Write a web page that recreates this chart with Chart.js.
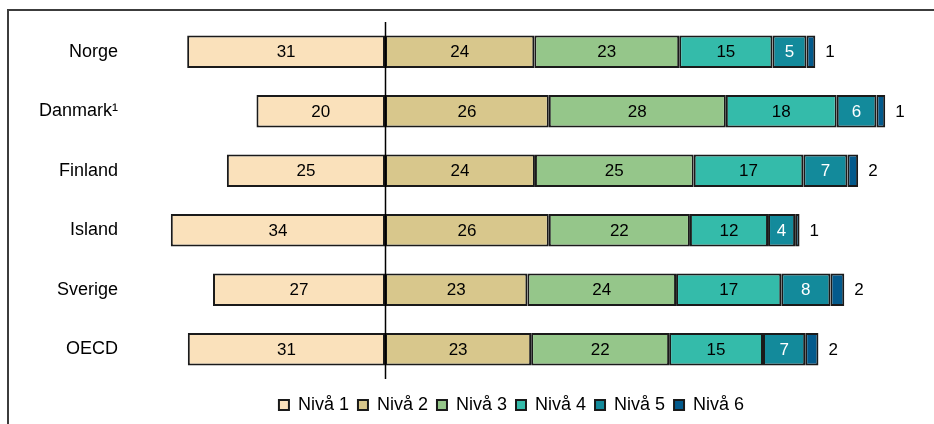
<!DOCTYPE html>
<html>
<head>
<meta charset="utf-8">
<script src="https://cdn.jsdelivr.net/npm/chart.js@4/dist/chart.umd.min.js"></script>
<style>
  html, body { margin: 0; padding: 0; background: #fff; overflow: hidden; width: 934px; height: 424px; }
  #frame { position: absolute; left: 7px; top: 9px; width: 1000px; height: 440px;
           border-left: 2px solid #3c3c3c; border-top: 2px solid #3c3c3c; }
  #wrap { position: absolute; left: 0; top: 0; width: 1030px; height: 424px; }
</style>
</head>
<body>
<div id="frame"></div>
<div id="wrap"><canvas id="chart"></canvas></div>
<script>
const countries = ["Norge", "Danmark¹", "Finland", "Island", "Sverige", "OECD"];
const levels = ["Nivå 1", "Nivå 2", "Nivå 3", "Nivå 4", "Nivå 5", "Nivå 6"];

// share of students per level, percent (labels show rounded values)
const niva1 = [31.4, 20.4, 25.1, 34.0, 27.3, 31.3];
const niva2 = [23.7, 26.0, 23.8, 26.0, 22.6, 23.2];
const niva3 = [23.0, 28.1, 25.2, 22.4, 23.6, 21.9];
const niva4 = [14.8, 17.6, 17.4, 12.4, 16.7, 14.9];
const niva5 = [5.4, 6.3, 7.0, 4.3, 7.8, 6.7];
const niva6 = [1.4, 1.4, 1.7, 0.7, 2.2, 2.1];

const LEVEL_COLOURS = ["#fae1bb", "#d8c78c", "#95c68a", "#34bbaa", "#138a9b", "#035a8c"];
const LABEL_COLOURS = ["#000", "#000", "#000", "#000", "#fff", "#000"];
const BAR_BORDER = "#1a1a1a";
const FONT = "'Liberation Sans', Arial, sans-serif";

const values = [niva1, niva2, niva3, niva4, niva5, niva6];

// Nivå 1 is drawn to the left of the zero line
const datasets = values.map((vals, i) => ({
  label: levels[i],
  data: i === 0 ? vals.map((v) => -v) : vals,
  raw: vals,
  backgroundColor: LEVEL_COLOURS[i],
  borderColor: BAR_BORDER,
  borderWidth: 2,
  borderSkipped: false,
  stack: "s",
}));

const zeroLine = {
  id: "zeroLine",
  afterDatasetsDraw(chart) {
    const { ctx, chartArea, scales } = chart;
    const x = Math.round(scales.x.getPixelForValue(0)) + 0.5;
    ctx.save();
    ctx.strokeStyle = "#000";
    ctx.lineWidth = 1.5;
    ctx.beginPath();
    ctx.moveTo(x, chartArea.top);
    ctx.lineTo(x, chartArea.bottom);
    ctx.stroke();
    ctx.restore();
  },
};

const barLabels = {
  id: "barLabels",
  afterDatasetsDraw(chart) {
    const ctx = chart.ctx;
    ctx.save();
    ctx.font = "17px " + FONT;
    ctx.textBaseline = "middle";
    chart.data.datasets.forEach((ds, i) => {
      const meta = chart.getDatasetMeta(i);
      meta.data.forEach((bar, j) => {
        const { x, y, base } = bar.getProps(["x", "y", "base"], true);
        const text = String(Math.round(ds.raw[j]));
        if (i === values.length - 1) {
          // smallest level gets its number outside the bar
          ctx.fillStyle = "#000";
          ctx.textAlign = "left";
          ctx.fillText(text, Math.max(x, base) + 10, y + 1);
        } else {
          ctx.fillStyle = LABEL_COLOURS[i];
          ctx.textAlign = "center";
          ctx.fillText(text, (x + base) / 2, y + 1);
        }
      });
    });
    ctx.restore();
  },
};

new Chart(document.getElementById("chart"), {
  type: "bar",
  data: { labels: countries, datasets: datasets },
  plugins: [zeroLine, barLabels],
  options: {
    indexAxis: "y",
    responsive: true,
    maintainAspectRatio: false,
    animation: false,
    categoryPercentage: 1,
    barPercentage: 0.55,
    layout: { padding: { top: 22, right: 15, bottom: 0, left: 8 } },
    scales: {
      x: {
        stacked: true,
        min: -40,
        max: 100,
        grid: { display: false },
        border: { display: false },
        ticks: { display: false },
      },
      y: {
        stacked: true,
        grid: { display: false, drawTicks: false },
        border: { display: false },
        ticks: { color: "#000", padding: 15, font: { family: FONT, size: 18 } },
        afterFit(scale) {
          scale.width = 125;
          // labels sit mid-band, so no extra room above or below
          scale.paddingTop = 0;
          scale.paddingBottom = 0;
        },
      },
    },
    plugins: {
      tooltip: { enabled: false },
      legend: {
        position: "bottom",
        labels: {
          color: "#000",
          boxWidth: 10,
          boxHeight: 10,
          padding: 9,
          font: { family: FONT, size: 18 },
        },
      },
    },
  },
});
</script>
</body>
</html>
